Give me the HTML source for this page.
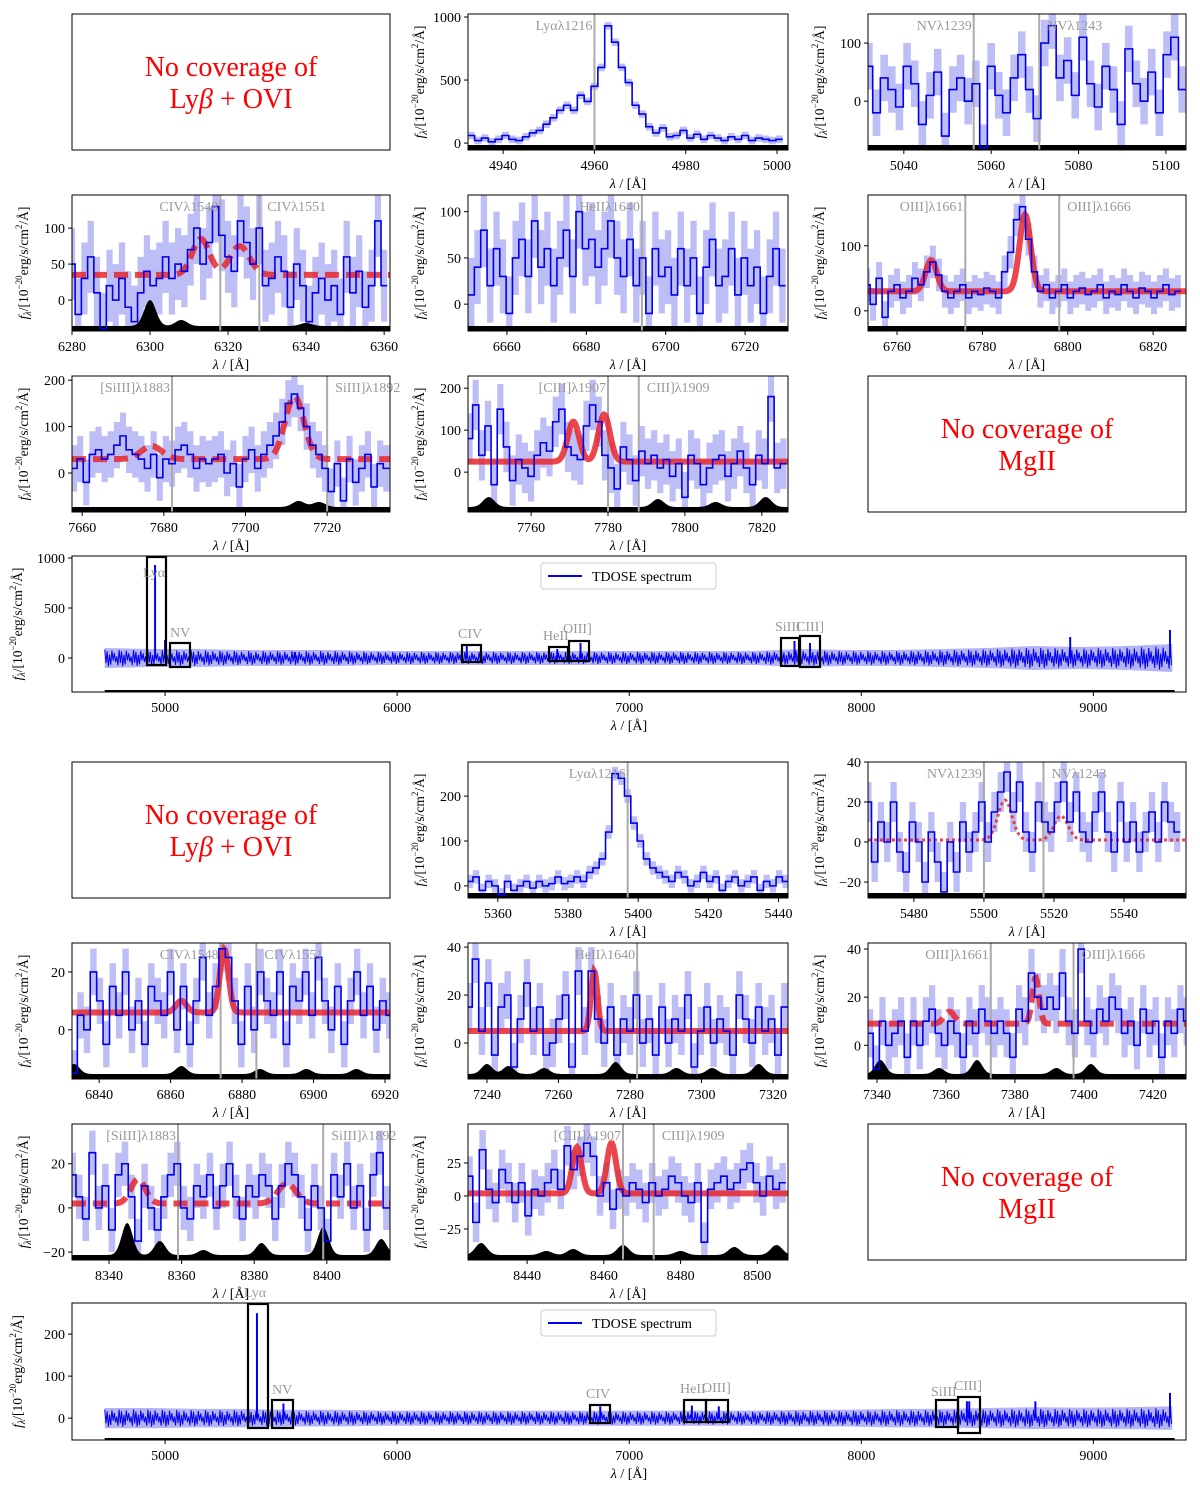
<!DOCTYPE html>
<html><head><meta charset="utf-8">
<style>
body{margin:0;background:#fff;}
svg{display:block;font-family:"Liberation Serif","DejaVu Serif",serif;}
</style></head>
<body>
<svg id="fig" width="1200" height="1492" viewBox="0 0 1200 1492" xmlns="http://www.w3.org/2000/svg"></svg>
<script>
// ---------- DATA ----------
const fluxTLya=[60,20,40,10,30,60,30,20,50,80,100,150,200,260,300,260,380,330,450,600,930,800,600,480,300,230,130,80,120,50,60,100,40,70,30,60,40,20,50,30,60,20,40,30,20,30];
const fluxTNV=[60,-20,40,20,-10,60,30,-40,10,50,-60,20,40,0,30,-80,60,10,-20,40,80,20,-30,100,130,40,70,10,110,30,-10,60,20,-40,90,30,0,50,-20,80,110,20];
const fluxTCIV=[50,-20,30,60,10,-40,20,0,30,-10,-30,10,40,20,30,60,30,50,40,70,100,50,80,130,90,60,40,110,80,50,100,20,30,60,40,-10,50,20,-30,10,30,0,20,-20,60,10,40,-10,20,110,20];
const fluxTHeII=[10,40,80,20,60,30,-10,50,70,30,90,40,60,20,50,80,30,100,60,70,40,60,90,50,30,70,20,50,-10,60,30,40,10,60,20,50,-10,40,70,20,30,60,10,50,20,40,-10,30,60,20];
const fluxTOIII=[40,10,50,-10,30,40,20,30,50,40,60,75,55,30,20,30,40,20,30,25,35,30,20,60,90,140,160,110,60,30,40,20,30,40,20,30,35,25,30,40,20,30,25,40,30,20,35,30,20,30,40,25,30];
const fluxTSiIII=[10,30,-20,40,50,30,40,60,80,50,40,30,10,40,-10,30,20,50,60,40,10,30,20,30,40,0,20,-30,30,50,10,40,60,80,110,150,170,140,100,60,40,10,-40,20,-60,30,-20,10,40,-30,20,10];
const fluxTCIII=[80,160,40,110,-30,150,60,-20,30,10,-10,40,70,50,120,150,60,40,30,110,160,120,40,10,-40,60,30,-20,50,20,40,10,30,-10,20,-60,40,20,-30,10,30,40,-10,20,50,10,-30,40,20,180,10,20];
const fluxBLya=[10,20,-10,10,0,-20,10,-10,0,10,-5,10,0,5,20,5,10,20,10,30,40,60,120,250,240,200,140,100,60,40,30,20,10,30,20,0,10,30,10,20,-10,10,20,0,10,20,-10,10,0,20,10];
const fluxBNV=[20,-10,10,0,20,-5,-15,10,0,-20,5,-10,-25,0,-15,10,-5,5,20,0,15,25,35,15,30,5,-5,20,10,5,20,30,10,25,5,0,15,25,5,-5,20,0,10,-5,5,15,0,20,10,5];
const fluxBCIV=[-15,5,0,20,10,-5,15,5,20,0,10,-5,15,10,5,20,0,15,-5,10,25,5,15,28,25,10,-5,15,0,20,10,5,20,-5,15,10,20,5,25,10,0,15,-5,10,20,5,15,0,10,5];
const fluxBHeII=[15,35,5,25,-5,15,20,-10,10,25,5,15,-5,0,10,20,-10,30,5,30,10,0,15,-5,10,5,20,0,10,-5,15,0,10,5,20,-10,5,15,0,10,5,-5,20,10,0,15,5,10,-5,15];
const fluxBOIII=[5,-10,10,0,5,10,-5,10,0,10,15,5,0,10,5,-5,10,5,15,10,5,10,5,-5,15,10,30,20,15,20,15,30,10,5,40,10,5,15,10,20,15,5,10,0,15,5,10,-5,10,5,15,10];
const fluxBSiIII=[15,5,-5,25,0,10,-10,15,20,5,-15,10,0,-10,5,15,20,0,-5,10,5,15,0,10,20,5,-5,10,5,15,10,-5,10,20,15,5,-10,10,0,-15,15,5,20,0,10,-10,15,25,0];
const fluxBCIII=[15,-20,35,5,-5,20,10,-5,10,-15,5,0,10,20,5,38,20,30,40,30,0,10,-10,5,0,10,5,-5,10,0,5,15,10,0,-5,10,-35,5,10,15,5,10,20,25,10,0,15,5,10];
// wide-panel envelope amplitudes (every 200 A from 4740)
const wideLam=[4740,4940,5140,5340,5540,5740,5940,6140,6340,6540,6740,6940,7140,7340,7540,7740,7940,8140,8340,8540,8740,8940,9140,9340];
const wideAmpTop=[100,90,90,80,80,80,70,70,70,70,70,70,70,70,70,90,80,80,90,100,120,110,120,140];
const wideAmpBot=[24,24,22,22,20,20,18,18,18,18,18,18,18,18,18,20,20,22,22,24,26,25,26,28];
const wideSpikesTop=[[4957,930],[5000,180],[5560,60],[6300,130],[6690,90],[6790,150],[7712,170],[7779,150],[8900,210],[9330,280]];
const wideSpikesBot=[[5396,250],[5510,35],[6875,28],[7270,30],[7386,28],[8455,40],[8465,40],[8750,40],[9330,60]];

// ---------- HELPERS ----------
const NS="http://www.w3.org/2000/svg";
const fig=document.getElementById('fig');
function mk(tag,attrs,parent){const e=document.createElementNS(NS,tag);for(const k in attrs)e.setAttribute(k,attrs[k]);(parent||fig).appendChild(e);return e;}
let clipId=0;

function ylabel(g,x,yc){
  const t=mk('text',{x:0,y:0,'font-size':13.5,'text-anchor':'middle',transform:`translate(${x},${yc}) rotate(-90)`},g);
  
  
  t.innerHTML='<tspan font-style="italic">f</tspan><tspan font-style="italic" font-size="10" dy="3">λ</tspan><tspan dy="-3">/[10</tspan><tspan font-size="9" dy="-6">−20</tspan><tspan dy="6">erg/s/cm</tspan><tspan font-size="9" dy="-6">2</tspan><tspan dy="6">/Å]</tspan>';
}

function nocov(x,y,w,h,l1,l2){
  const g=mk('g',{});
  
  
  mk('rect',{x:x,y:y,width:w,height:h,fill:'none',stroke:'#000','stroke-width':1},g);
  const a=mk('text',{x:x+w/2,y:y+h/2-6,'font-size':28,fill:'#f00','text-anchor':'middle'},g);a.innerHTML=l1;
  const b=mk('text',{x:x+w/2,y:y+h/2+26,'font-size':28,fill:'#f00','text-anchor':'middle'},g);b.innerHTML=l2;
}

function panel(c){
  const g=mk('g',{});
  
  
  const X=v=>c.x+(v-c.xmin)/(c.xmax-c.xmin)*c.w;
  const Y=v=>c.y+c.h-(v-c.ymin)/(c.ymax-c.ymin)*c.h;
  const id='cp'+(clipId++);
  const cp=mk('clipPath',{id:id},g);mk('rect',{x:c.x,y:c.y,width:c.w,height:c.h},cp);
  const inner=mk('g',{'clip-path':`url(#${id})`},g);
  let up='',lo='';
  c.flux.forEach((f,i)=>{const l=c.x0+i*c.dx;const a=X(l-c.dx/2),b=X(l+c.dx/2);
    up+=`${a},${Y(f+c.err)} ${b},${Y(f+c.err)} `;lo=`${b},${Y(f-c.err)} ${a},${Y(f-c.err)} `+lo;});
  const eb=mk('polygon',{points:up+lo,fill:'#b3b3f5',opacity:0.85},inner);
  
  
  let sky=`${c.x},${c.y+c.h} `;
  for(let px=c.x;px<=c.x+c.w;px+=1){const lam=c.xmin+(px-c.x)/c.w*(c.xmax-c.xmin);
    let hgt=5;(c.sky||[]).forEach(s=>{hgt+=s[1]*Math.exp(-0.5*((lam-s[0])/1.5)**2);});sky+=`${px},${c.y+c.h-hgt} `;}
  sky+=`${c.x+c.w},${c.y+c.h}`;
  const sk=mk('polygon',{points:sky,fill:'#000'},inner);
  
  
  (c.lines||[]).forEach((ln,k)=>{
    const lx=X(ln[0]);
    const vl=mk('line',{x1:lx,x2:lx,y1:c.y,y2:c.y+c.h,stroke:'#aaa','stroke-width':2},inner);
    
    
    const t=mk('text',{x:k==0?lx-2:lx+8,y:c.y+16,'font-size':14,fill:'#999','text-anchor':k==0?'end':'start'},g);
    
    
    t.textContent=ln[1];
  });
  if(c.model){
    let pts='';
    for(let px=c.x;px<=c.x+c.w;px+=1){const lam=c.xmin+(px-c.x)/c.w*(c.xmax-c.xmin);
      let v=c.model.base;c.model.peaks.forEach(p=>{v+=p[1]*Math.exp(-0.5*((lam-p[0])/p[2])**2);});pts+=`${px},${Y(v)} `;}
    const dash=c.model.style=='dashed'?'14,7':(c.model.style=='dotted'?'3,3':'none');
    const m=mk('polyline',{points:pts,fill:'none',stroke:'#e8262b','stroke-opacity':0.85,'stroke-width':c.model.style=='dotted'?3:6,'stroke-dasharray':dash},inner);
    
    
  }
  let d='';
  c.flux.forEach((f,i)=>{const l=c.x0+i*c.dx;const a=X(l-c.dx/2),b=X(l+c.dx/2);d+=(i?'L':'M')+a+','+Y(f)+'L'+b+','+Y(f);});
  const fl=mk('path',{d:d,fill:'none',stroke:'#0000ee','stroke-width':1.6},inner);
  
  
  mk('rect',{x:c.x,y:c.y,width:c.w,height:c.h,fill:'none',stroke:'#000','stroke-width':1},g);
  axes(g,c,X,Y);
}

function axes(g,c,X,Y){
  c.xticks.forEach(v=>{const px=X(v);mk('line',{x1:px,x2:px,y1:c.y+c.h,y2:c.y+c.h+4,stroke:'#000'},g);
    const t=mk('text',{x:px,y:c.y+c.h+20,'font-size':14,'text-anchor':'middle'},g);
    
    
    t.textContent=v;});
  c.yticks.forEach(v=>{const py=Y(v);mk('line',{x1:c.x-4,x2:c.x,y1:py,y2:py,stroke:'#000'},g);
    const t=mk('text',{x:c.x-7,y:py+5,'font-size':14,'text-anchor':'end'},g);
    
    
    t.textContent=v<0?'−'+(-v):v;});
  const xl=mk('text',{x:c.x+c.w/2,y:c.y+c.h+38,'font-size':14,'text-anchor':'middle'},g);
  
  
  xl.innerHTML='<tspan font-style="italic">λ</tspan> / [Å]';
  ylabel(g,c.x-(c.ylx||44),c.y+c.h/2);
}

function wide(c){
  const g=mk('g',{});
  
  
  const X=v=>c.x+(v-c.xmin)/(c.xmax-c.xmin)*c.w;
  const Y=v=>c.y+c.h-(v-c.ymin)/(c.ymax-c.ymin)*c.h;
  const id='cp'+(clipId++);
  const cp=mk('clipPath',{id:id},g);mk('rect',{x:c.x,y:c.y,width:c.w,height:c.h},cp);
  const inner=mk('g',{'clip-path':`url(#${id})`},g);
  let up='',lo='';
  c.lam.forEach((l,i)=>{up+=`${X(l)},${Y(c.amp[i])} `;lo=`${X(l)},${Y(-c.amp[i])} `+lo;});
  mk('polygon',{points:up+lo,fill:'#b3b3f5'},inner);
  let d='';let k=0;
  for(let px=X(c.lam[0]);px<=X(c.lam[c.lam.length-1]);px+=1.2,k++){
    const lam=c.xmin+(px-c.x)/c.w*(c.xmax-c.xmin);
    let j=0;while(j<c.lam.length-2&&c.lam[j+1]<lam)j++;
    const t=(lam-c.lam[j])/(c.lam[j+1]-c.lam[j]);const a=c.amp[j]*(1-t)+c.amp[j+1]*t;
    const s=[1,-0.6,0.8,-1,0.4,-0.8,0.9,-0.3,0.6,-0.5,0.2,-0.9][k%12];
    d+=(k?'L':'M')+px+','+Y(a*s*0.85);}
  const zz=mk('path',{d:d,fill:'none',stroke:'#0000ee','stroke-width':1},inner);
  
  
  c.spikes.forEach(s=>{const sp=mk('line',{x1:X(s[0]),x2:X(s[0]),y1:Y(0),y2:Y(s[1]),stroke:'#0000ee','stroke-width':2},inner);
    
    });
  mk('rect',{x:X(4740),y:c.y+c.h-2,width:X(9350)-X(4740),height:2,fill:'#000'},inner);
  mk('rect',{x:c.x,y:c.y,width:c.w,height:c.h,fill:'none',stroke:'#000','stroke-width':1},g);
  c.boxes.forEach(b=>{const r=mk('rect',{x:b[0],y:b[1],width:b[2],height:b[3],fill:'none',stroke:'#000','stroke-width':2.2},g);
    
    
    const t=mk('text',{x:b[4],y:b[5],'font-size':14,fill:'#999'},g);
    
    
    t.textContent=b[6];});
  const lg=mk('g',{},g);
  
  
  mk('rect',{x:541,y:c.y+7,width:175,height:26,rx:3,fill:'#fff',stroke:'#ccc'},lg);
  mk('line',{x1:548,x2:582,y1:c.y+20,y2:c.y+20,stroke:'#0000ee','stroke-width':2},lg);
  const lt=mk('text',{x:592,y:c.y+25,'font-size':14},lg);lt.textContent='TDOSE spectrum';
  c.ylx=50;axes(g,c,X,Y);
}

// ---------- TOP HALF ----------
nocov(72,14,318,136,'No coverage of','Ly<tspan font-style="italic">β</tspan> + OVI');
panel({name:'top-lya-panel',x:468,y:14,w:320,h:136,xmin:4932.3,xmax:5002.4,ymin:-55,ymax:1024,xticks:[4940,4960,4980,5000],yticks:[0,500,1000],flux:fluxTLya,x0:4933,dx:1.5,err:30,lines:[[4960,'Lyαλ1216']],sky:[]});
panel({name:'top-nv-panel',x:868,y:14,w:318,h:136,xmin:5031.8,xmax:5104.6,ymin:-84,ymax:150,xticks:[5040,5060,5080,5100],yticks:[0,100],flux:fluxTNV,x0:5032,dx:1.75,err:40,lines:[[5056,'NVλ1239'],[5071,'NVλ1243']],sky:[]});
panel({name:'top-civ-panel',x:72,y:195,w:318,h:136,xmin:6280,xmax:6361.5,ymin:-43,ymax:146,xticks:[6280,6300,6320,6340,6360],yticks:[0,50,100],flux:fluxTCIV,x0:6280,dx:1.6,err:50,lines:[[6318,'CIVλ1548'],[6328,'CIVλ1551']],model:{base:35,peaks:[[6313,50,2.2],[6323,40,2.5]],style:'dashed'},sky:[[6300,26],[6308,6],[6340,3]]});
panel({name:'top-heii-panel',x:468,y:195,w:320,h:136,xmin:6650.2,xmax:6730.8,ymin:-29,ymax:118,xticks:[6660,6680,6700,6720],yticks:[0,50,100],flux:fluxTHeII,x0:6651,dx:1.6,err:40,lines:[[6694,'HeIIλ1640']],sky:[]});
panel({name:'top-oiii-panel',x:868,y:195,w:318,h:136,xmin:6753.2,xmax:6827.7,ymin:-31,ymax:178,xticks:[6760,6780,6800,6820],yticks:[0,100],flux:fluxTOIII,x0:6753,dx:1.4,err:25,lines:[[6776,'OIII]λ1661'],[6798,'OIII]λ1666']],model:{base:30,peaks:[[6768,48,1.3],[6790,118,1.3]],style:'solid'},sky:[]});
panel({name:'top-siiii-panel',x:72,y:376,w:318,h:136,xmin:7657.5,xmax:7735.4,ymin:-84,ymax:209,xticks:[7660,7680,7700,7720],yticks:[0,100,200],flux:fluxTSiIII,x0:7658,dx:1.5,err:50,lines:[[7682,'[SiIII]λ1883'],[7720,'SiIII]λ1892']],model:{base:30,peaks:[[7677,28,2.5],[7712,135,2.3]],style:'dashed'},sky:[[7713,6],[7718,5]]});
panel({name:'top-ciii-panel',x:468,y:376,w:320,h:136,xmin:7743.6,xmax:7826.8,ymin:-95,ymax:229,xticks:[7760,7780,7800,7820],yticks:[0,100,200],flux:fluxTCIII,x0:7744,dx:1.6,err:60,lines:[[7780,'[CIII]λ1907'],[7788,'CIII]λ1909']],model:{base:25,peaks:[[7771,95,1.5],[7779,112,1.5]],style:'solid'},sky:[[7749,10],[7793,8],[7808,5],[7821,10]]});
nocov(868,376,318,136,'No coverage of','MgII');
wide({name:'top-full-spectrum',x:72,y:556,w:1114,h:136,xmin:4599,xmax:9399,ymin:-340,ymax:1020,xticks:[5000,6000,7000,8000,9000],yticks:[0,500,1000],lam:wideLam,amp:wideAmpTop,spikes:wideSpikesTop,
  boxes:[[147,557,19,108,143,577,'Lyα'],[170,643,20,24,170,637,'NV'],[462,645,19,17,458,638,'CIV'],[549,647,19,14,543,640,'HeII'],[569,641,20,20,563,633,'OIII]'],[781,638,18,28,775,631,'SiIII'],[800,636,20,31,796,631,'CIII]']]});

// ---------- BOTTOM HALF ----------
nocov(72,762,318,136,'No coverage of','Ly<tspan font-style="italic">β</tspan> + OVI');
panel({name:'bottom-lya-panel',x:468,y:762,w:320,h:136,xmin:5351.5,xmax:5442.7,ymin:-27,ymax:276,xticks:[5360,5380,5400,5420,5440],yticks:[0,100,200],flux:fluxBLya,x0:5352,dx:1.8,err:15,lines:[[5397,'Lyαλ1216']],sky:[]});
panel({name:'bottom-nv-panel',x:868,y:762,w:318,h:136,xmin:5466.9,xmax:5557.7,ymin:-28,ymax:40,xticks:[5480,5500,5520,5540],yticks:[-20,0,20,40],flux:fluxBNV,x0:5467,dx:1.8,err:10,lines:[[5500,'NVλ1239'],[5517,'NVλ1243']],model:{base:1,peaks:[[5506,20,2],[5522,12,2]],style:'dotted'},sky:[]});
panel({name:'bottom-civ-panel',x:72,y:943,w:318,h:136,xmin:6832.4,xmax:6921.4,ymin:-17,ymax:30,xticks:[6840,6860,6880,6900,6920],yticks:[0,20],flux:fluxBCIV,x0:6833,dx:1.8,err:8,lines:[[6874,'CIVλ1548'],[6884,'CIVλ1551']],model:{base:6,peaks:[[6863,4,1.5],[6875,22,1.2]],style:'solid'},sky:[[6833,10],[6863,8],[6885,5],[6898,5],[6912,5]]});
panel({name:'bottom-heii-panel',x:468,y:943,w:320,h:136,xmin:7234.7,xmax:7324.2,ymin:-15,ymax:41.7,xticks:[7240,7260,7280,7300,7320],yticks:[0,20,40],flux:fluxBHeII,x0:7235,dx:1.8,err:10,lines:[[7282,'HeIIλ1640']],model:{base:5,peaks:[[7270,25,0.9]],style:'solid'},sky:[[7240,10],[7246,8],[7256,6],[7276,12],[7293,6],[7303,6],[7316,10]]});
panel({name:'bottom-oiii-panel',x:868,y:943,w:318,h:136,xmin:7337.4,xmax:7429.6,ymin:-14,ymax:42.5,xticks:[7340,7360,7380,7400,7420],yticks:[0,20,40],flux:fluxBOIII,x0:7338,dx:1.8,err:10,lines:[[7373,'OIII]λ1661'],[7397,'OIII]λ1666']],model:{base:9,peaks:[[7361,5,1.5],[7386,19,1]],style:'dashed'},sky:[[7341,14],[7358,6],[7369,14],[7392,6],[7402,10]]});
panel({name:'bottom-siiii-panel',x:72,y:1124,w:318,h:136,xmin:8329.8,xmax:8417.4,ymin:-23.6,ymax:38,xticks:[8340,8360,8380,8400],yticks:[-20,0,20],flux:fluxBSiIII,x0:8330,dx:1.8,err:10,lines:[[8359,'[SiIII]λ1883'],[8399,'SiIII]λ1892']],model:{base:2,peaks:[[8348,11,2],[8389,9,2.5]],style:'dashed'},sky:[[8345,32],[8354,14],[8366,5],[8382,12],[8399,28],[8415,16]]});
panel({name:'bottom-ciii-panel',x:468,y:1124,w:320,h:136,xmin:8424.6,xmax:8508,ymin:-48.5,ymax:54.5,xticks:[8440,8460,8480,8500],yticks:[-25,0,25],flux:fluxBCIII,x0:8425,dx:1.7,err:15,lines:[[8465,'[CIII]λ1907'],[8473,'CIII]λ1909']],model:{base:2,peaks:[[8453,35,1.2],[8462,38,1.2]],style:'solid'},sky:[[8428,12],[8445,4],[8452,6],[8465,10],[8480,4],[8494,8],[8505,10]]});
nocov(868,1124,318,136,'No coverage of','MgII');
wide({name:'bottom-full-spectrum',x:72,y:1303,w:1114,h:137,xmin:4599,xmax:9399,ymin:-52,ymax:274,xticks:[5000,6000,7000,8000,9000],yticks:[0,100,200],lam:wideLam,amp:wideAmpBot,spikes:wideSpikesBot,
  boxes:[[248,1304,20,124,244,1297,'Lyα'],[272,1400,21,28,272,1394,'NV'],[590,1405,20,18,586,1398,'CIV'],[684,1400,22,22,680,1393,'HeII'],[706,1400,22,22,702,1392,'OIII]'],[936,1400,22,27,931,1396,'SiIII'],[958,1397,22,36,954,1390,'CIII]']]});
</script>
</body></html>
